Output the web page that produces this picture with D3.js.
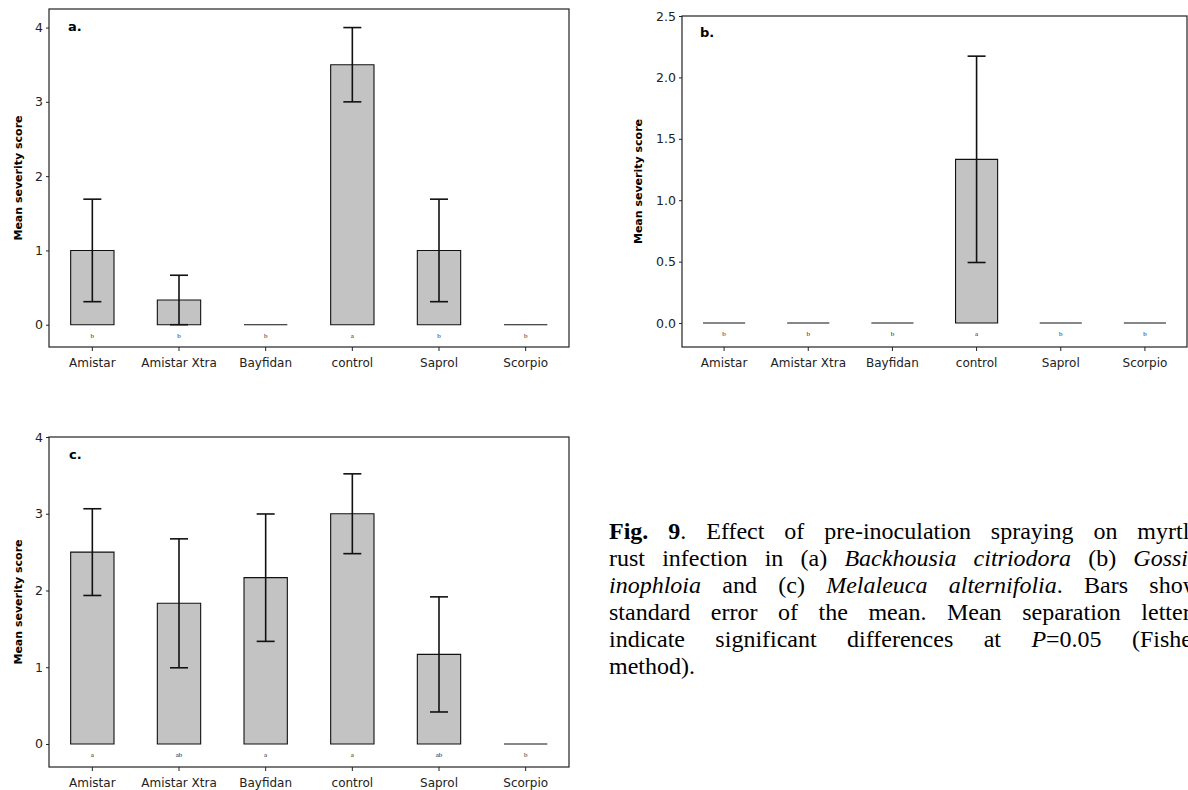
<!DOCTYPE html>
<html>
<head>
<meta charset="utf-8">
<script src="https://cdn.jsdelivr.net/npm/d3@7"></script>
<style>
  body { margin: 0; background: #fff; overflow: hidden; width: 1188px; height: 790px; position: relative; }
  svg { position: absolute; left: 0; top: 0; }
  .axis text { font-family: "DejaVu Sans", sans-serif; fill: #222; }
  .caption { position: absolute; font-family: "Liberation Serif", "Times New Roman", serif; font-size: 24px; line-height: 27px; color: #000; }
  .caption div { text-align: justify; text-align-last: justify; white-space: nowrap; }
  .caption div.last { text-align-last: left; }
</style>
</head>
<body>
<script>
// data
var categories = ["Amistar", "Amistar Xtra", "Bayfidan", "control", "Saprol", "Scorpio"];

var meanA = [1.0, 0.333, 0, 3.5, 1.0, 0];
var seA   = [0.69, 0.333, 0, 0.5, 0.69, 0];
var letA  = ["b", "b", "b", "a", "b", "b"];

var meanB = [0, 0, 0, 1.333, 0, 0];
var seB   = [0, 0, 0, 0.84, 0, 0];
var letB  = ["b", "b", "b", "a", "b", "b"];

var meanC = [2.5, 1.833, 2.167, 3.0, 1.167, 0];
var seC   = [0.565, 0.84, 0.83, 0.52, 0.75, 0];
var letC  = ["a", "ab", "a", "a", "ab", "b"];

var ticksA = [0, 1, 2, 3, 4];
var ticksB = [0, 0.5, 1.0, 1.5, 2.0, 2.5];
var ticksC = [0, 1, 2, 3, 4];

var captionLines = [
  "<b>Fig. 9</b>. Effect of pre-inoculation spraying on myrtle",
  "rust infection in (a) <i>Backhousia citriodora</i> (b) <i>Gossia</i>",
  "<i>inophloia</i> and (c) <i>Melaleuca alternifolia</i>. Bars show",
  "standard error of the mean. Mean separation letters",
  "indicate significant differences at <i>P</i>=0.05 (Fisher",
  "method)."
];

var svg = d3.select("body").append("svg")
    .attr("width", 1188)
    .attr("height", 790);

function drawPanel(p) {
  var x = d3.scaleBand()
      .domain(categories)
      .range([p.left, p.right])
      .paddingInner(0.5)
      .paddingOuter(0.25);

  var y = d3.scaleLinear()
      .domain(p.domain)
      .range([p.bottom, p.top]);

  var g = svg.append("g");

  // y axis
  var yAxis = d3.axisLeft(y)
      .tickValues(p.ticks)
      .tickFormat(p.fmt)
      .tickSize(3)
      .tickPadding(3);
  var ya = g.append("g")
      .attr("class", "axis")
      .attr("transform", "translate(" + p.left + ",0)")
      .call(yAxis);
  ya.select(".domain").remove();
  ya.selectAll("text").style("font-size", "12.5px");
  ya.selectAll("line").attr("stroke", "#222");

  // x axis
  var xAxis = d3.axisBottom(x)
      .tickSize(4)
      .tickPadding(7);
  var xa = g.append("g")
      .attr("class", "axis")
      .attr("transform", "translate(0," + p.bottom + ")")
      .call(xAxis);
  xa.select(".domain").remove();
  xa.selectAll("text").style("font-size", "12px");
  xa.selectAll("line").attr("stroke", "#222");

  // bars (path so that zero bars still show as a line)
  var data = categories.map(function(c, i) {
    return { cat: c, mean: p.mean[i], se: p.se[i], letter: p.letters[i] };
  });

  g.selectAll(".bar")
      .data(data)
    .enter().append("path")
      .attr("class", "bar")
      .attr("d", function(d) {
        var x0 = x(d.cat), x1 = x0 + x.bandwidth();
        return "M" + x0 + "," + y(0) + "V" + y(d.mean) + "H" + x1 + "V" + y(0) + "Z";
      })
      .attr("fill", "#c3c3c3")
      .attr("stroke", "#111")
      .attr("stroke-width", 1.1);

  // error bars
  var eb = g.selectAll(".err")
      .data(data.filter(function(d) { return d.se > 0; }))
    .enter().append("g")
      .attr("class", "err")
      .attr("stroke", "#111")
      .attr("stroke-width", 1.6);
  var cx = function(d) { return x(d.cat) + x.bandwidth() / 2; };
  eb.append("line")
      .attr("x1", cx).attr("x2", cx)
      .attr("y1", function(d) { return y(d.mean + d.se); })
      .attr("y2", function(d) { return y(d.mean - d.se); });
  eb.append("line")
      .attr("x1", function(d) { return cx(d) - 9; })
      .attr("x2", function(d) { return cx(d) + 9; })
      .attr("y1", function(d) { return y(d.mean + d.se); })
      .attr("y2", function(d) { return y(d.mean + d.se); });
  eb.append("line")
      .attr("x1", function(d) { return cx(d) - 9; })
      .attr("x2", function(d) { return cx(d) + 9; })
      .attr("y1", function(d) { return y(d.mean - d.se); })
      .attr("y2", function(d) { return y(d.mean - d.se); });

  // mean separation letters
  g.selectAll(".let")
      .data(data)
    .enter().append("text")
      .attr("x", cx)
      .attr("y", y(0) + 13)
      .attr("text-anchor", "middle")
      .style("font-family", "Liberation Serif, serif")
      .style("font-size", "7px")
      .attr("fill", "#222")
      .text(function(d) { return d.letter; });

  // frame
  g.append("rect")
      .attr("x", p.left)
      .attr("y", p.top)
      .attr("width", p.right - p.left)
      .attr("height", p.bottom - p.top)
      .attr("fill", "none")
      .attr("stroke", "#222")
      .attr("stroke-width", 1.2);

  // panel label
  g.append("text")
      .attr("x", p.left + p.labelDx)
      .attr("y", p.top + p.labelDy)
      .style("font-family", "DejaVu Sans, sans-serif")
      .style("font-size", "13px")
      .style("font-weight", "bold")
      .text(p.label);

  // y title
  g.append("text")
      .attr("transform", "translate(" + p.titleX + "," + ((p.top + p.bottom) / 2) + ") rotate(-90)")
      .attr("text-anchor", "middle")
      .attr("dy", "0.35em")
      .style("font-family", "DejaVu Sans, sans-serif")
      .style("font-size", "11px")
      .style("font-weight", "bold")
      .text("Mean severity score");
}

drawPanel({ left: 49, right: 569, top: 9, bottom: 347, domain: [-0.3, 4.25],
  ticks: ticksA, fmt: d3.format("d"), mean: meanA, se: seA, letters: letA,
  label: "a.", labelDx: 19, labelDy: 22, titleX: 18 });

drawPanel({ left: 682, right: 1187, top: 16, bottom: 347, domain: [-0.195, 2.5],
  ticks: ticksB, fmt: d3.format(".1f"), mean: meanB, se: seB, letters: letB,
  label: "b.", labelDx: 18, labelDy: 21, titleX: 638 });

drawPanel({ left: 49, right: 569, top: 437, bottom: 767, domain: [-0.3, 4],
  ticks: ticksC, fmt: d3.format("d"), mean: meanC, se: seC, letters: letC,
  label: "c.", labelDx: 20, labelDy: 22, titleX: 18 });

// caption
var cap = d3.select("body").append("div")
    .attr("class", "caption")
    .style("left", "609px")
    .style("top", "518px")
    .style("width", "591px");

cap.selectAll("div")
    .data(captionLines)
  .enter().append("div")
    .attr("class", function(d, i) { return i === captionLines.length - 1 ? "last" : null; })
    .html(function(d) { return d; });
</script>
</body>
</html>
